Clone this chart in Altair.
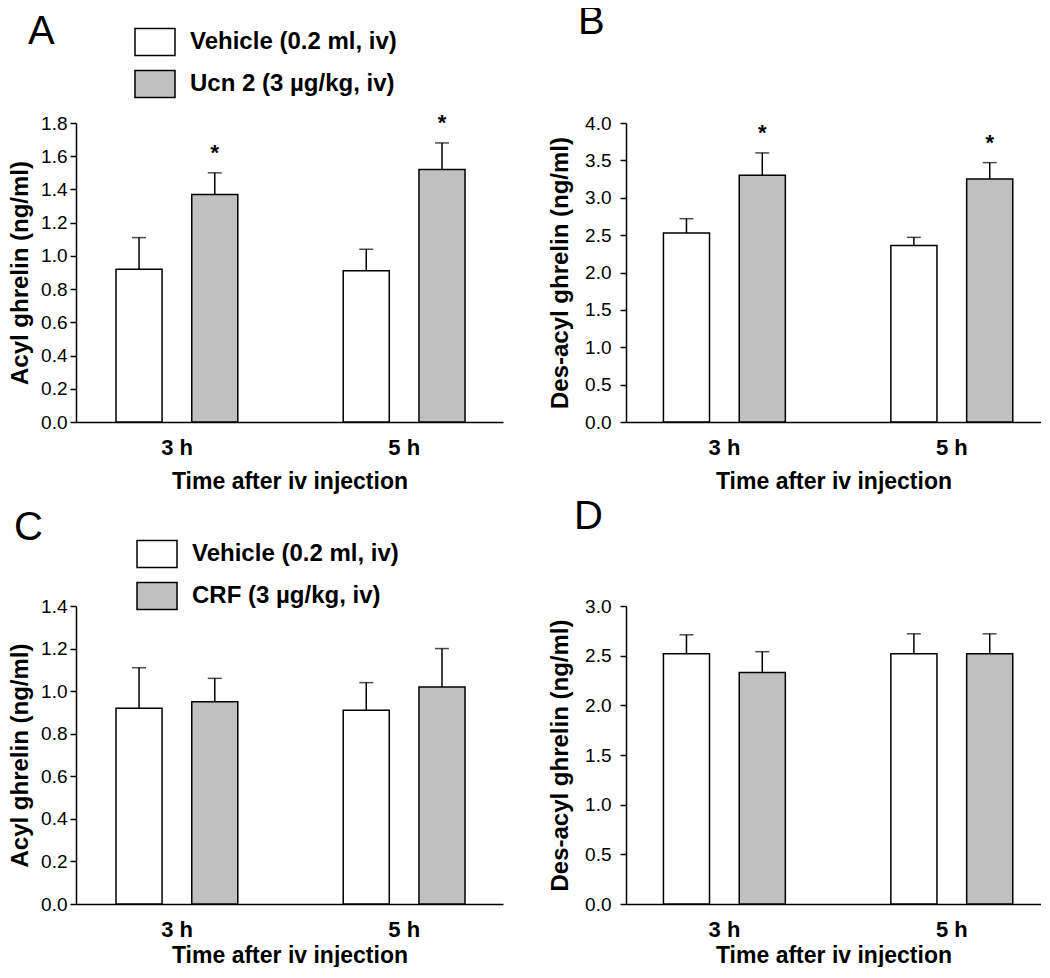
import altair as alt
import pandas as pd

# ---------------- data ----------------
times = ["3 h", "5 h"]
trt_ucn = ["Vehicle (0.2 ml, iv)", "Ucn 2 (3 µg/kg, iv)"]
trt_crf = ["Vehicle (0.2 ml, iv)", "CRF (3 µg/kg, iv)"]

# order in each list: 3 h vehicle, 3 h drug, 5 h vehicle, 5 h drug
a_mean = [0.92, 1.37, 0.91, 1.52]
a_sem = [0.19, 0.13, 0.13, 0.16]
a_sig = [False, True, False, True]

b_mean = [2.53, 3.30, 2.36, 3.25]
b_sem = [0.19, 0.30, 0.11, 0.22]
b_sig = [False, True, False, True]

c_mean = [0.92, 0.95, 0.91, 1.02]
c_sem = [0.19, 0.11, 0.13, 0.18]
c_sig = [False, False, False, False]

d_mean = [2.52, 2.33, 2.52, 2.52]
d_sem = [0.19, 0.21, 0.20, 0.20]
d_sig = [False, False, False, False]

a_ticks = [0.0, 0.2, 0.4, 0.6, 0.8, 1.0, 1.2, 1.4, 1.6, 1.8]
b_ticks = [0.0, 0.5, 1.0, 1.5, 2.0, 2.5, 3.0, 3.5, 4.0]
c_ticks = [0.0, 0.2, 0.4, 0.6, 0.8, 1.0, 1.2, 1.4]
d_ticks = [0.0, 0.5, 1.0, 1.5, 2.0, 2.5, 3.0]

FONT = "Liberation Sans"
GREY = "#c0c0c0"
BOX = "M-1,-0.675L1,-0.675L1,0.675L-1,0.675Z"

# x slots: each time point holds two bars, with an empty slot between the groups
slots = [f"{times[0]}|0", f"{times[0]}|1", "gap", f"{times[1]}|0", f"{times[1]}|1"]
label_expr = (f"datum.value == '{times[0]}|0' ? '{times[0]}' : "
              f"datum.value == '{times[1]}|0' ? '{times[1]}' : ''")


def panel(mean, sem, sig, trts, ytitle, ticks, width, height, letter,
          letter_dx, letter_offset, x_po, x_align, x_title_pad,
          y_label_pad, y_title_pad, legend_xy=None):
    rows = []
    i = 0
    for t in times:
        for k, tr in enumerate(trts):
            rows.append(dict(slot=f"{t}|{k}", time=t, trt=tr, mean=mean[i],
                             hi=mean[i] + sem[i], star="*" if sig[i] else ""))
            i += 1
    df = pd.DataFrame(rows)

    xscale = alt.Scale(type="band", domain=slots, paddingInner=0.392,
                       paddingOuter=x_po, align=x_align)
    xaxis = alt.Axis(title="Time after iv injection", labelAngle=0, ticks=False,
                     labelExpr=label_expr, labelOffset=38, titlePadding=x_title_pad)
    x = alt.X("slot:N", scale=xscale, axis=xaxis)
    yscale = alt.Scale(domain=[0, ticks[-1]], nice=False, zero=True)
    yaxis = alt.Axis(title=ytitle, values=ticks, format=".1f",
                     labelPadding=y_label_pad, titlePadding=y_title_pad)

    if legend_xy is not None:
        legend = alt.Legend(orient="none", legendX=legend_xy[0], legendY=legend_xy[1],
                            title=None, direction="vertical")
    else:
        legend = None

    base = alt.Chart(df)
    bars = base.mark_bar(stroke="black", strokeWidth=1.5).encode(
        x=x,
        y=alt.Y("mean:Q", scale=yscale, axis=yaxis, title=ytitle),
        fill=alt.Fill("trt:N", scale=alt.Scale(domain=trts, range=["#ffffff", GREY]),
                      legend=legend),
    )
    err = base.mark_rule(color="black", strokeWidth=1.5).encode(
        x=x,
        y=alt.Y("mean:Q", scale=yscale, axis=yaxis, title=ytitle),
        y2="hi:Q",
    )
    cap = base.mark_tick(color="black", size=14, thickness=1.5).encode(
        x=x,
        y=alt.Y("hi:Q", scale=yscale, axis=yaxis, title=ytitle),
    )
    star = base.mark_text(font=FONT, fontSize=22, fontWeight="bold", color="black",
                          baseline="alphabetic", align="center", dy=-13).encode(
        x=x,
        y=alt.Y("hi:Q", scale=yscale, axis=yaxis, title=ytitle),
        text="star:N",
    )
    return alt.layer(bars, err, cap, star).properties(
        width=width, height=height,
        title=alt.TitleParams(text=letter, dx=letter_dx, offset=letter_offset),
    )


W1, W2 = 427, 415
pA = panel(a_mean, a_sem, a_sig, trt_ucn, "Acyl ghrelin (ng/ml)", a_ticks, W1, 299,
           "A", -48, -31, 0.515, 0.513, 12, 3, 8, legend_xy=(58, -102))
pB = panel(b_mean, b_sem, b_sig, trt_ucn, "Des-acyl ghrelin (ng/ml)", b_ticks, W2, 299,
           "B", -48, 72, 0.433, 0.57, 12, 9, 12)
pC = panel(c_mean, c_sem, c_sig, trt_crf, "Acyl ghrelin (ng/ml)", c_ticks, W1, 298,
           "C", -62, -15, 0.515, 0.513, 4, 3, 8, legend_xy=(60, -73))
pD = panel(d_mean, d_sem, d_sig, trt_crf, "Des-acyl ghrelin (ng/ml)", d_ticks, W2, 298,
           "D", -52, 60, 0.433, 0.57, 4, 9, 12)

chart = alt.concat(
    pA, pB, pC, pD, columns=2,
    spacing=alt.RowColnumber(row=184, column=123),
    bounds="flush", align="each",
).resolve_scale(
    fill="independent", x="independent", y="independent"
).properties(
    padding={"left": 0, "top": -6, "right": 0, "bottom": 0}
).configure_view(
    stroke=None
).configure_axis(
    grid=False, domainColor="black", domainWidth=1.5, tickColor="black", tickWidth=1.5,
    labelFont=FONT, titleFont=FONT, labelColor="black", titleColor="black",
).configure_axisY(
    labelFontSize=19, labelFontWeight="normal", tickSize=6,
    titleFontSize=24, titleFontWeight="bold",
).configure_axisX(
    labelFontSize=22, labelFontWeight="bold", labelPadding=15,
    titleFontSize=23, titleFontWeight="bold",
).configure_title(
    font=FONT, fontSize=40, fontWeight="normal", color="black", anchor="start",
    frame="group", baseline="alphabetic",
).configure_legend(
    symbolType=BOX, symbolSize=1600, symbolStrokeColor="black", symbolStrokeWidth=1.5,
    symbolOpacity=1, labelFont=FONT, labelFontSize=24, labelFontWeight="bold",
    labelColor="black", labelOffset=14, rowPadding=4, padding=0, labelLimit=400,
)

chart.save("out.html", embed_options={"renderer": "svg", "actions": False})
